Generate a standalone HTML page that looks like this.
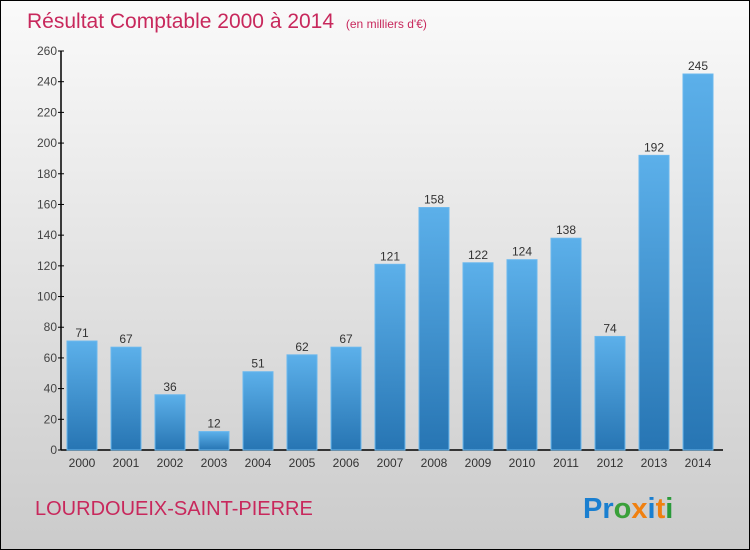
<!DOCTYPE html>
<html><head><meta charset="utf-8"><style>
body{margin:0}
#c{position:relative;width:748px;height:548px;border:1px solid #000;background:linear-gradient(#fafafa,#cbcbcb);font-family:"Liberation Sans",sans-serif;overflow:hidden}
</style></head><body>
<div id="c">
<svg width="748" height="548" xmlns="http://www.w3.org/2000/svg">
<defs><linearGradient id="bg" x1="0" y1="0" x2="0" y2="1"><stop offset="0" stop-color="#5cb0ea"/><stop offset="1" stop-color="#2775b3"/></linearGradient></defs>
<text x="26" y="27" font-size="21" fill="#c8285c">Résultat Comptable 2000 à 2014 <tspan font-size="12" dx="6">(en milliers d'€)</tspan></text>
<g id="plot"></g>
<text x="34" y="514" font-size="20" fill="#c8285c">LOURDOUEIX-SAINT-PIERRE</text>
<text x="582" y="517" font-size="29" font-weight="bold"><tspan fill="#1a7fd0">Pr</tspan><tspan fill="#3aa03a">o</tspan><tspan fill="#f08010">x</tspan><tspan fill="#1a7fd0">i</tspan><tspan fill="#f08010">t</tspan><tspan fill="#2a9a3a">i</tspan></text>
</svg></div>
<script>
const years=["2000","2001","2002","2003","2004","2005","2006","2007","2008","2009","2010","2011","2012","2013","2014"];
const values=[71,67,36,12,51,62,67,121,158,122,124,138,74,192,245];
const yTicks=[0,20,40,60,80,100,120,140,160,180,200,220,240,260];
const NS="http://www.w3.org/2000/svg";
const g=document.getElementById('plot');
const y0=449,ppu=(449-50)/260;
const yS=v=>y0-v*ppu;
const xS=i=>81+i*44;
function mk(t,a,txt){const e=document.createElementNS(NS,t);for(const k in a)e.setAttribute(k,a[k]);if(txt!=null)e.textContent=txt;g.appendChild(e);return e;}
let ax=mk('line',{x1:60,y1:50,x2:60,y2:y0,stroke:'#000','stroke-width':1.5});


let bx=mk('line',{x1:60,y1:y0,x2:722,y2:y0,stroke:'#000','stroke-width':1.5});


yTicks.forEach(v=>{
 let t=mk('line',{x1:57,x2:63,y1:yS(v),y2:yS(v),stroke:'#000'});
 
 
 let l=mk('text',{x:56,y:yS(v)+4,'font-size':12,'text-anchor':'end',fill:'#444'},v);
 
 
});
values.forEach((v,i)=>{
 const cx=xS(i);
 let r=mk('rect',{x:cx-15,y:yS(v),width:30,height:y0-yS(v),fill:'url(#bg)',stroke:'#6ab8ee','stroke-width':1});
 
 
 let vl=mk('text',{x:cx,y:yS(v)-4,'font-size':12,'text-anchor':'middle',fill:'#333'},v);
 
 
 let xl=mk('text',{x:cx,y:466,'font-size':12,'text-anchor':'middle',fill:'#333'},years[i]);
 
 
});
</script>
</body></html>
